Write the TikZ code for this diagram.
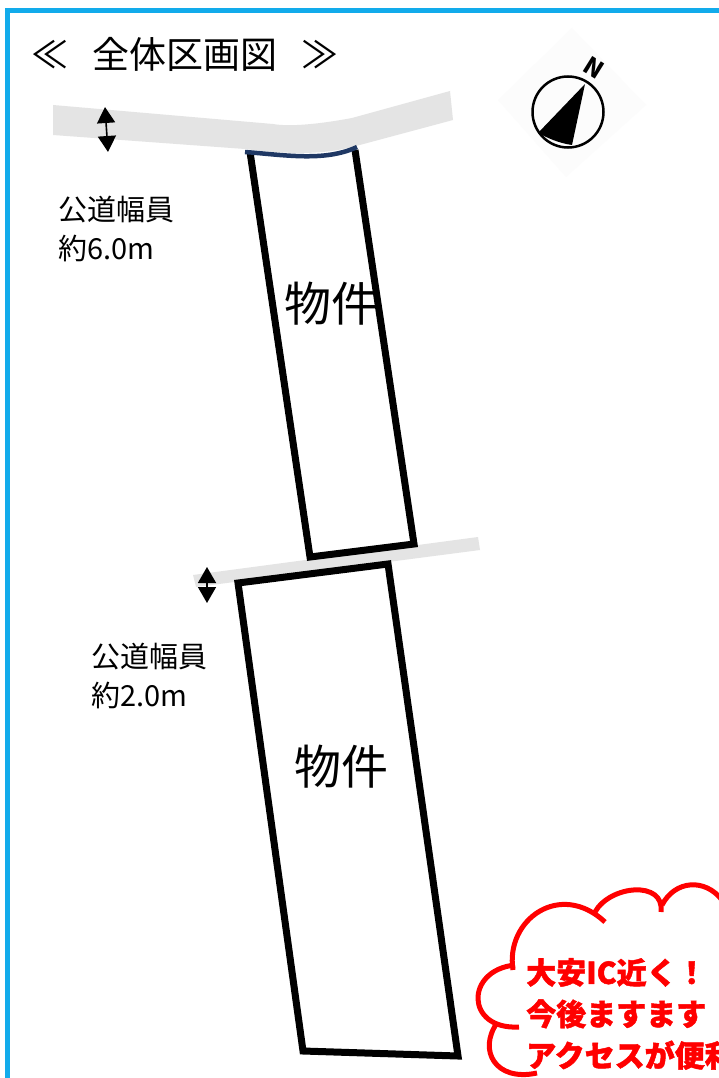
\documentclass[tikz,border=0pt]{standalone}
\usepackage{fontspec}
\setmainfont{Noto Sans CJK JP}
\newfontfamily\cjkheavy[FakeBold=1.5]{Noto Sans CJK JP Black}
\usetikzlibrary{arrows.meta}
\definecolor{frameblue}{HTML}{12ABEB}
\definecolor{roadgray}{HTML}{E4E4E4}
\definecolor{curbblue}{HTML}{1F3864}
\tikzset{
  x=1pt,y=-1pt,
  lot/.style={draw=black,line width=7pt,miter limit=10,line join=miter},
  road/.style={fill=roadgray,draw=none},
  label/.style={inner sep=0pt,anchor=west,align=left},
  note/.style={inner sep=0pt,anchor=north west,font=\fontsize{29}{39}\selectfont,align=left},
  cloudline/.style={draw=red,line width=5pt,line cap=butt},
  dim/.style={draw=black,line width=1.6pt,{Triangle[width=18pt,length=16pt]}-{Triangle[width=18pt,length=16pt]}},
}
\begin{document}
\begin{tikzpicture}
\useasboundingbox (0,0) rectangle (719,1078);
\clip (0,0) rectangle (719,1078);
\fill[white] (0,0) rectangle (719,1078);
% frame
\draw[frameblue,line width=5pt] (7.5,1078) -- (7.5,10.5) -- (719,10.5);
% roads
\path[road] (53,105) -- (273,124) .. controls (290,127) and (320,124) .. (352,118) -- (450,91) -- (453,120) -- (356,146) .. controls (330,153) and (300,156) .. (245,149) -- (53,135) -- cycle;
\path[road] (193,575) -- (478,537) -- (480,550) -- (196,587) -- cycle;
% lots
\draw[lot] (250,152) -- (310,557) -- (414,544) -- (355,150);
\draw[draw=curbblue,line width=4.5pt] (245,152) .. controls (285,155) and (325,162) .. (357,147);
\draw[lot] (238,583) -- (388,564) -- (458,1056) -- (303,1051) -- cycle;
% dimension arrows
\coordinate (a1) at (105,107); \coordinate (a2) at (108,152);
\draw[dim] (a1) -- (a2);
\coordinate (b1) at (207,567); \coordinate (b2) at (207,603);
\draw[dim] (b1) -- (b2);
% north mark
\fill[white!99!black] (572,28) -- (646,105) -- (566,177) -- (498,100) -- cycle;
\coordinate (comp) at (568,112);
\draw[black,line width=2.5pt] (comp) circle (35.5);
\fill[black] (585,84) -- (538,133) .. controls (548,138) and (558,143) .. (572,145) -- cycle;
\node[inner sep=0pt,rotate=-32,font=\bfseries\fontsize{24}{24}\selectfont] (north) at (594,68) {N};
% texts
\node[label,font=\fontsize{37}{44}\selectfont] (title) at (31,54) {≪\hspace{0.65em}全体区画図\hspace{0.65em}≫};
\node[note] (road1) at (58,196) {公道幅員\\約6.0m};
\node[note] (road2) at (91,643) {公道幅員\\約2.0m};
\node[inner sep=0pt,font=\fontsize{47}{47}\selectfont] (lot1) at (331,304) {物件};
\node[inner sep=0pt,font=\fontsize{47}{47}\selectfont] (lot2) at (341,767) {物件};
% cloud
\draw[cloudline] (513,970) .. controls (505,920) and (560,880) .. (605,922);
\draw[cloudline] (595,912) .. controls (610,885) and (665,880) .. (661,912);
\draw[cloudline] (662,905) .. controls (675,880) and (705,878) .. (722,900);
\draw[cloudline] (515,965) .. controls (465,970) and (465,1030) .. (519,1027);
\draw[cloudline] (497,1023) .. controls (478,1050) and (495,1082) .. (537,1073);
\node[inner sep=0pt,anchor=north west,text=red,font=\cjkheavy\fontsize{30}{41.5}\selectfont,align=left] (cloudtext) at (526,958) {大安IC近く！\\今後ますます\\アクセスが便利};
\end{tikzpicture}
\end{document}
